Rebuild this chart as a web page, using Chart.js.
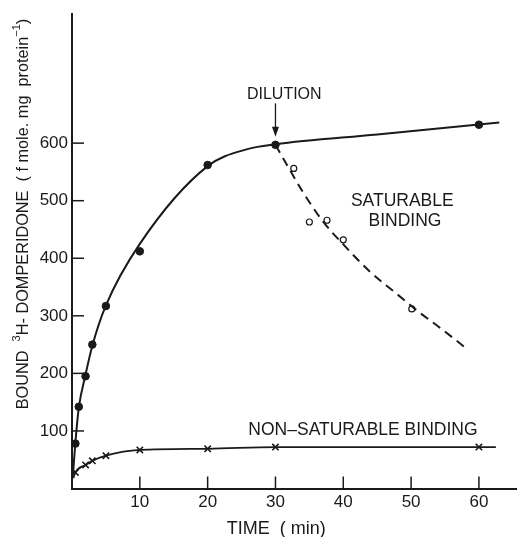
<!DOCTYPE html>
<html>
<head>
<meta charset="utf-8">
<script src="https://cdn.jsdelivr.net/npm/chart.js@4"></script>
<style>
  html, body { margin: 0; padding: 0; background: #fff; overflow: hidden; }
  #wrap { width: 523px; height: 537px; position: relative; }
</style>
</head>
<body>
<div id="wrap"><canvas id="chart"></canvas></div>
<script>
// Datos (tiempo en min, union en fmol/mg proteina)
const timeTotal = [0.5, 1, 2, 3, 5, 10, 20, 30, 60];
const boundTotal = [78, 142, 195, 250, 317, 412, 562, 597, 632];

const timeDilution = [32.7, 35, 37.6, 40, 50.1];
const boundDilution = [556, 463, 466, 432, 312];

const timeNonSat = [0.5, 2, 3, 5, 10, 20, 30, 60];
const boundNonSat = [28, 41, 48, 57, 67, 69, 72, 72];

// Curvas trazadas a mano en la figura original
const curveTotalTime = [0.15, 0.5, 1, 2, 3, 5, 10, 20, 26, 30, 45, 63];
const curveTotalBound = [25, 80, 140, 198, 248, 318, 425, 560, 590, 598, 615, 636];

const curveDilTime = [30, 32, 34, 37, 40, 44, 48, 51, 54.5, 58.4];
const curveDilBound = [597, 556, 516, 464, 424, 376, 337, 308, 277, 241];

const curveNonSatTime = [0.2, 0.5, 2, 3, 5, 10, 20, 30, 60, 62.5];
const curveNonSatBound = [18, 28, 41, 48, 57, 67, 69, 72, 72, 72];

const xTicks = [10, 20, 30, 40, 50, 60];
const yTicks = [100, 200, 300, 400, 500, 600];

const INK = '#1a1a1a';
const FONT = '"Liberation Sans", Arial, sans-serif';

const toXY = (xs, ys) => xs.map((x, i) => ({ x: x, y: ys[i] }));

// Marcas de los ejes hacia dentro, titulo del eje Y y textos
const decoPlugin = {
    id: 'deco',
    afterDraw(chart) {
        const ctx = chart.ctx;
        const xs = chart.scales.x;
        const ys = chart.scales.y;
        const area = chart.chartArea;
        ctx.save();
        ctx.strokeStyle = INK;
        ctx.lineWidth = 1.5;
        yTicks.forEach(v => {
            const py = ys.getPixelForValue(v);
            ctx.beginPath();
            ctx.moveTo(area.left, py);
            ctx.lineTo(area.left + 12, py);
            ctx.stroke();
        });
        xTicks.forEach(v => {
            const px = xs.getPixelForValue(v);
            ctx.beginPath();
            ctx.moveTo(px, area.bottom);
            ctx.lineTo(px, area.bottom - 12);
            ctx.stroke();
        });

        // Flecha de dilucion
        const ax = xs.getPixelForValue(30);
        const tipY = ys.getPixelForValue(611);
        ctx.lineWidth = 1.3;
        ctx.beginPath();
        ctx.moveTo(ax, ys.getPixelForValue(669));
        ctx.lineTo(ax, tipY - 4);
        ctx.stroke();
        ctx.fillStyle = INK;
        ctx.beginPath();
        ctx.moveTo(ax, tipY);
        ctx.lineTo(ax - 3.5, tipY - 10);
        ctx.lineTo(ax + 3.5, tipY - 10);
        ctx.closePath();
        ctx.fill();

        // Textos
        ctx.fillStyle = INK;
        ctx.textAlign = 'center';
        ctx.textBaseline = 'middle';
        ctx.font = '16px ' + FONT;
        ctx.fillText('DILUTION', xs.getPixelForValue(31.3), ys.getPixelForValue(684));
        ctx.font = '17.5px ' + FONT;
        ctx.fillText('SATURABLE', xs.getPixelForValue(48.7), ys.getPixelForValue(499));
        ctx.fillText('BINDING', xs.getPixelForValue(49.1), ys.getPixelForValue(465));
        ctx.fillText('NON\u2013SATURABLE BINDING', xs.getPixelForValue(42.9), ys.getPixelForValue(101));

        // Titulo del eje X
        ctx.font = '18px ' + FONT;
        ctx.fillText('TIME  ( min)', xs.getPixelForValue(30.1), 529);

        // Titulo del eje Y con superindices
        const parts = [
            { t: 'BOUND  ', sup: false },
            { t: '3', sup: true },
            { t: 'H- DOMPERIDONE  ( f mole. mg  protein', sup: false },
            { t: '\u22121', sup: true },
            { t: ')', sup: false }
        ];
        const big = '16.3px ' + FONT;
        const small = '11px ' + FONT;
        let total = 0;
        parts.forEach(p => {
            ctx.font = p.sup ? small : big;
            p.w = ctx.measureText(p.t).width;
            total += p.w;
        });
        ctx.translate(24, 214);
        ctx.rotate(-Math.PI / 2);
        ctx.textAlign = 'left';
        let cx = -total / 2;
        parts.forEach(p => {
            ctx.font = p.sup ? small : big;
            ctx.fillText(p.t, cx, p.sup ? -7 : 0);
            cx += p.w;
        });
        ctx.restore();
    }
};

new Chart(document.getElementById('chart'), {
    type: 'scatter',
    data: {
        datasets: [
            {
                label: 'curva total',
                type: 'line',
                data: toXY(curveTotalTime, curveTotalBound),
                borderColor: INK,
                borderWidth: 2,
                pointRadius: 0,
                cubicInterpolationMode: 'monotone',
                fill: false
            },
            {
                label: 'curva dilucion',
                type: 'line',
                data: toXY(curveDilTime, curveDilBound),
                borderColor: INK,
                borderWidth: 2,
                borderDash: [9, 6],
                pointRadius: 0,
                cubicInterpolationMode: 'monotone',
                fill: false
            },
            {
                label: 'curva no saturable',
                type: 'line',
                data: toXY(curveNonSatTime, curveNonSatBound),
                borderColor: INK,
                borderWidth: 1.8,
                pointRadius: 0,
                cubicInterpolationMode: 'monotone',
                fill: false
            },
            {
                label: 'total',
                data: toXY(timeTotal, boundTotal),
                pointStyle: 'circle',
                pointRadius: 3.8,
                backgroundColor: INK,
                borderColor: INK
            },
            {
                label: 'dilucion',
                data: toXY(timeDilution, boundDilution),
                pointStyle: 'circle',
                pointRadius: 3,
                borderWidth: 1.2,
                backgroundColor: '#fff',
                borderColor: INK
            },
            {
                label: 'no saturable',
                data: toXY(timeNonSat, boundNonSat),
                pointStyle: 'crossRot',
                pointRadius: 4.5,
                borderWidth: 1.6,
                borderColor: INK
            }
        ]
    },
    options: {
        responsive: true,
        maintainAspectRatio: false,
        animation: false,
        layout: { padding: { left: 0, top: 12, right: 1, bottom: 0 } },
        plugins: {
            legend: { display: false },
            tooltip: { enabled: false }
        },
        scales: {
            x: {
                type: 'linear',
                min: 0,
                max: 65.6,
                afterBuildTicks: s => { s.ticks = xTicks.map(v => ({ value: v })); },
                afterFit: s => { s.height = 48.5; },
                grid: { drawOnChartArea: false, drawTicks: false },
                border: { color: INK, width: 2 },
                ticks: { color: INK, padding: 4, font: { family: FONT, size: 17 } }
            },
            y: {
                min: 0,
                max: 824,
                afterBuildTicks: s => { s.ticks = yTicks.map(v => ({ value: v })); },
                afterFit: s => { s.width = 72; },
                grid: { drawOnChartArea: false, drawTicks: false },
                border: { color: INK, width: 2 },
                ticks: { color: INK, padding: 4, font: { family: FONT, size: 17 } }
            }
        }
    },
    plugins: [decoPlugin]
});
</script>
</body>
</html>
